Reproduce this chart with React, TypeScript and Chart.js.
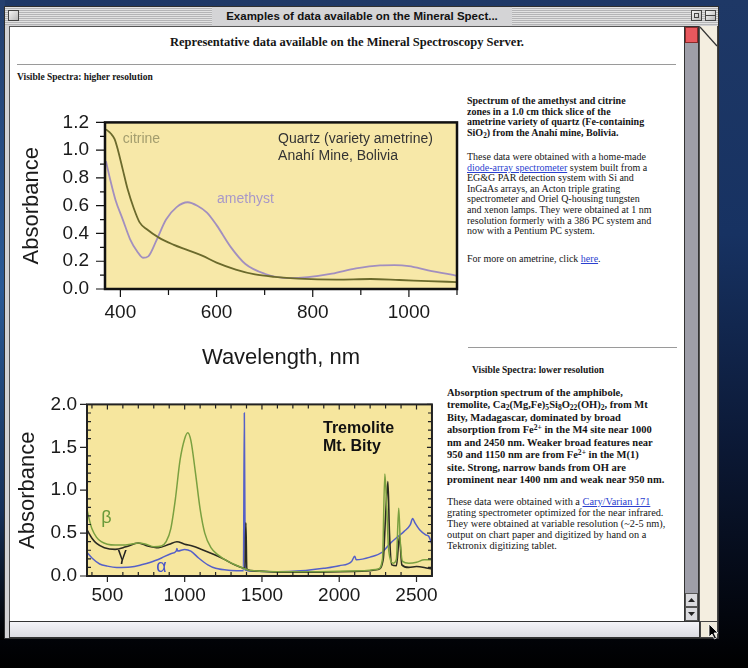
import React, { useEffect, useRef } from 'react';
import { Chart, registerables } from 'chart.js';

Chart.register(...registerables);

const SERIF = '"Liberation Serif", "DejaVu Serif", "Times New Roman", serif';
const SANS = '"Liberation Sans", Arial, Helvetica, sans-serif';

// ---------- Chart 1: visible spectra of ametrine ----------
const citrineNm = [370, 380, 388, 395, 405, 415, 428, 440, 455, 480, 510, 540, 570, 600, 640, 680, 720, 770, 850, 920, 980, 1040, 1100];
const citrineAbs = [1.15, 1.12, 1.08, 1.0, 0.86, 0.72, 0.58, 0.48, 0.43, 0.37, 0.32, 0.28, 0.24, 0.19, 0.14, 0.105, 0.088, 0.075, 0.068, 0.072, 0.065, 0.057, 0.05];
const amethystNm = [370, 378, 390, 405, 420, 435, 447, 458, 475, 495, 517, 540, 560, 580, 600, 630, 660, 700, 750, 790, 840, 890, 940, 970, 1000, 1040, 1100];
const amethystAbs = [0.92, 0.8, 0.64, 0.5, 0.36, 0.27, 0.225, 0.235, 0.35, 0.5, 0.59, 0.625, 0.6, 0.55, 0.46, 0.3, 0.18, 0.11, 0.078, 0.085, 0.11, 0.148, 0.17, 0.172, 0.165, 0.135, 0.095];
const visXTicks = [400, 600, 800, 1000];
const visYTicks = [0, 0.2, 0.4, 0.6, 0.8, 1.0, 1.2];

// ---------- Chart 2: tremolite, Mt. Bity ----------
const betaNm = [370, 380, 400, 430, 460, 500, 550, 600, 650, 700, 750, 800, 850, 880, 910, 940, 970, 1000, 1020, 1040, 1070, 1100, 1130, 1170, 1220, 1280, 1340, 1380, 1410, 1450, 1600, 1800, 2000, 2150, 2250, 2280, 2295, 2305, 2320, 2350, 2370, 2385, 2395, 2410, 2450, 2500, 2550, 2600];
const betaAbs = [0.76, 0.68, 0.55, 0.45, 0.4, 0.37, 0.36, 0.36, 0.37, 0.385, 0.37, 0.34, 0.35, 0.4, 0.55, 0.9, 1.35, 1.6, 1.67, 1.58, 1.2, 0.78, 0.5, 0.33, 0.24, 0.17, 0.12, 0.09, 0.07, 0.06, 0.05, 0.05, 0.055, 0.06, 0.08, 0.2, 1.19, 0.9, 0.3, 0.15, 0.2, 0.79, 0.4, 0.17, 0.15, 0.16, 0.19, 0.19];
const gammaNm = [370, 400, 430, 480, 550, 620, 700, 760, 830, 900, 950, 1000, 1050, 1110, 1190, 1250, 1300, 1350, 1390, 1396, 1402, 1450, 1600, 1800, 2000, 2150, 2250, 2285, 2300, 2315, 2325, 2340, 2370, 2390, 2405, 2450, 2500, 2550, 2600];
const gammaAbs = [0.53, 0.44, 0.38, 0.33, 0.31, 0.34, 0.385, 0.35, 0.33, 0.37, 0.4, 0.37, 0.35, 0.31, 0.25, 0.2, 0.15, 0.11, 0.09, 0.62, 0.08, 0.06, 0.045, 0.045, 0.05, 0.055, 0.075, 0.2, 0.7, 1.1, 0.5, 0.13, 0.12, 0.46, 0.13, 0.1, 0.11, 0.1, 0.08];
const alphaNm = [370, 400, 450, 500, 560, 650, 720, 780, 850, 910, 945, 950, 955, 1000, 1040, 1090, 1150, 1200, 1300, 1380, 1386, 1392, 1450, 1600, 1750, 1900, 2000, 2080, 2100, 2110, 2200, 2280, 2330, 2380, 2420, 2460, 2475, 2490, 2520, 2560, 2580, 2600];
const alphaAbs = [0.27, 0.21, 0.14, 0.115, 0.1, 0.105, 0.13, 0.16, 0.21, 0.26, 0.29, 0.32, 0.29, 0.31, 0.29, 0.21, 0.13, 0.09, 0.065, 0.06, 1.9, 0.07, 0.055, 0.05, 0.06, 0.09, 0.12, 0.17, 0.23, 0.19, 0.22, 0.28, 0.38, 0.46, 0.52, 0.6, 0.67, 0.62, 0.54, 0.48, 0.46, 0.37];
const nirXTicks = [500, 1000, 1500, 2000, 2500];
const nirYTicks = [0, 0.5, 1.0, 1.5, 2.0];

// label anchors (data coordinates)
const visNotes = [
  { text: 'citrine', x: 405, y: 1.076, color: '#a39d6e', font: `14px ${SANS}`, align: 'left' },
  { text: 'Quartz (variety ametrine)', x: 728, y: 1.083, color: '#333', font: `14px ${SANS}`, align: 'left' },
  { text: 'Anahí Mine, Bolivia', x: 728, y: 0.959, color: '#333', font: `14px ${SANS}`, align: 'left' },
  { text: 'amethyst', x: 601, y: 0.648, color: '#a898c8', font: `14px ${SANS}`, align: 'left' },
];
const nirNotes = [
  { text: 'Tremolite', x: 1895, y: 1.716, color: '#111', font: `bold 16px ${SANS}`, align: 'left' },
  { text: 'Mt. Bity', x: 1895, y: 1.51, color: '#111', font: `bold 16px ${SANS}`, align: 'left' },
  { text: 'β', x: 494, y: 0.67, color: '#6a9a3a', font: `18px ${SANS}`, align: 'center' },
  { text: 'γ', x: 596, y: 0.24, color: '#222', font: `18px ${SANS}`, align: 'center' },
  { text: 'α', x: 850, y: 0.1, color: '#4a55c8', font: `18px ${SANS}`, align: 'center' },
];

const pts = (xs: number[], ys: number[]) => xs.map((x, i) => ({ x, y: ys[i] }));

type Side = { major: number; minor: number };
type FrameSpec = {
  fill: string; color: string; frameWidth: number;
  xMajor: number; xMinor: number; yMajor: number; yMinor: number;
  sides: { bottom?: Side; top?: Side; left?: Side; right?: Side };
};

const framePlugin = (spec: FrameSpec) => ({
  id: 'frame',
  beforeDatasetsDraw(chart: any) {
    const { ctx, chartArea: a } = chart;
    ctx.save();
    ctx.fillStyle = spec.fill;
    ctx.fillRect(a.left, a.top, a.right - a.left, a.bottom - a.top);
    ctx.restore();
  },
  afterDatasetsDraw(chart: any) {
    const { ctx, chartArea: a, scales } = chart;
    const x = scales.x, y = scales.y;
    ctx.save();
    ctx.strokeStyle = spec.color;
    ctx.lineWidth = 1.2;
    ctx.beginPath();
    (['bottom', 'top', 'left', 'right'] as const).forEach((side) => {
      const s = spec.sides[side];
      if (!s) return;
      const horiz = side === 'bottom' || side === 'top';
      const sc = horiz ? x : y;
      const minor = horiz ? spec.xMinor : spec.yMinor;
      const major = horiz ? spec.xMajor : spec.yMajor;
      for (let k = Math.ceil(sc.min / minor - 1e-9); k * minor <= sc.max + 1e-9; k++) {
        const v = k * minor;
        const r = v / major;
        const len = Math.abs(r - Math.round(r)) < 1e-6 ? s.major : s.minor;
        if (!len) continue;
        const p = sc.getPixelForValue(v);
        if (side === 'bottom') { ctx.moveTo(p, a.bottom); ctx.lineTo(p, a.bottom - len); }
        if (side === 'top') { ctx.moveTo(p, a.top); ctx.lineTo(p, a.top + len); }
        if (side === 'left') { ctx.moveTo(a.left, p); ctx.lineTo(a.left + len, p); }
        if (side === 'right') { ctx.moveTo(a.right, p); ctx.lineTo(a.right - len, p); }
      }
    });
    ctx.stroke();
    ctx.lineWidth = spec.frameWidth;
    ctx.strokeRect(a.left, a.top, a.right - a.left, a.bottom - a.top);
    ctx.restore();
  },
});

const notesPlugin = (items: typeof visNotes) => ({
  id: 'notes',
  afterDatasetsDraw(chart: any) {
    const { ctx, scales } = chart;
    ctx.save();
    ctx.textBaseline = 'middle';
    items.forEach((n) => {
      ctx.font = n.font;
      ctx.fillStyle = n.color;
      ctx.textAlign = n.align as CanvasTextAlign;
      ctx.fillText(n.text, scales.x.getPixelForValue(n.x), scales.y.getPixelForValue(n.y));
    });
    ctx.restore();
  },
});

function axisX(min: number, max: number, ticks: number[], height: number, pad: number, title?: any) {
  return {
    type: 'linear', min, max,
    afterBuildTicks: (s: any) => { s.ticks = ticks.map((value) => ({ value })); },
    afterFit: (s: any) => { s.height = height; },
    grid: { display: false, drawTicks: false },
    border: { display: false },
    ticks: { padding: pad, color: '#1a1a1a', autoSkip: false, maxRotation: 0, font: { family: SANS, size: 19 }, callback: (v: any) => String(v) },
    title: title || { display: false },
  };
}
function axisY(min: number, max: number, ticks: number[], width: number, pad: number, titlePad: number) {
  return {
    type: 'linear', min, max,
    afterBuildTicks: (s: any) => { s.ticks = ticks.map((value) => ({ value })); },
    afterFit: (s: any) => { s.width = width; },
    grid: { display: false, drawTicks: false },
    border: { display: false },
    ticks: { padding: pad, color: '#1a1a1a', autoSkip: false, font: { family: SANS, size: 19 }, callback: (v: any) => Number(v).toFixed(1) },
    title: { display: true, text: 'Absorbance', color: '#1a1a1a', font: { family: SANS, size: 22 }, padding: { top: titlePad, bottom: 0 } },
  };
}

const line = (data: any, color: string, width: number) => ({
  data, borderColor: color, borderWidth: width, pointRadius: 0, fill: false, cubicInterpolationMode: 'monotone',
});

function visConfig(): any {
  return {
    type: 'line',
    data: {
      datasets: [
        line(pts(citrineNm, citrineAbs), '#6b6a2c', 1.8),
        line(pts(amethystNm, amethystAbs), '#a28fbf', 1.8),
      ],
    },
    options: {
      animation: false, responsive: false, devicePixelRatio: 1,
      layout: { padding: { left: 0, top: 18, right: 8, bottom: 0 } },
      plugins: { legend: { display: false }, tooltip: { enabled: false } },
      scales: {
        x: axisX(368, 1100, visXTicks, 86, 12, {
          display: true, text: 'Wavelength, nm', color: '#1a1a1a', font: { family: SANS, size: 22 }, padding: { top: 0, bottom: 4 },
        }),
        y: axisY(0, 1.2, visYTicks, 95, 16, 9),
      },
    },
    plugins: [
      framePlugin({
        fill: '#f7e8a8', color: '#111', frameWidth: 2.5, xMajor: 200, xMinor: 100, yMajor: 0.2, yMinor: 0.1,
        sides: { bottom: { major: -8, minor: -6 }, left: { major: -9, minor: -5 } },
      }),
      notesPlugin(visNotes),
    ],
  };
}

function nirConfig(): any {
  return {
    type: 'line',
    data: {
      datasets: [
        line(pts(betaNm, betaAbs), '#7aa040', 1.5),
        line(pts(gammaNm, gammaAbs), '#2b2b22', 1.6),
        line(pts(alphaNm, alphaAbs), '#5560c8', 1.5),
      ],
    },
    options: {
      animation: false, responsive: false, devicePixelRatio: 1,
      layout: { padding: { left: 0, top: 17, right: 8, bottom: 0 } },
      plugins: { legend: { display: false }, tooltip: { enabled: false } },
      scales: {
        x: axisX(368, 2600, nirXTicks, 44, 8),
        y: axisY(0, 2.0, nirYTicks, 77, 10, 5),
      },
    },
    plugins: [
      framePlugin({
        fill: '#f6e69e', color: '#222', frameWidth: 2, xMajor: 500, xMinor: 100, yMajor: 0.5, yMinor: 0.1,
        sides: { bottom: { major: -6, minor: 4 }, top: { major: 5, minor: 4 }, left: { major: -7, minor: 4 }, right: { major: 5, minor: 4 } },
      }),
      notesPlugin(nirNotes),
    ],
  };
}

function ChartCanvas({ make, left, top, width, height }: { make: () => any; left: number; top: number; width: number; height: number }) {
  const ref = useRef<HTMLCanvasElement>(null);
  useEffect(() => {
    const c = new Chart(ref.current as HTMLCanvasElement, make());
    return () => c.destroy();
  }, []);
  return <canvas ref={ref} width={width} height={height} style={{ position: 'absolute', left, top, width, height }} />;
}

const abs = (l: number, t: number, w: number, h: number, extra: React.CSSProperties = {}): React.CSSProperties => ({
  position: 'absolute', left: l, top: t, width: w, height: h, boxSizing: 'border-box', ...extra,
});

const link: React.CSSProperties = { color: '#2b3fcf', textDecoration: 'underline' };
const sub: React.CSSProperties = { fontSize: '0.72em', position: 'relative', top: '0.3em', verticalAlign: 'baseline' };
const sup: React.CSSProperties = { fontSize: '0.72em', position: 'relative', top: '-0.45em', verticalAlign: 'baseline' };

export default function App() {
  const textBase: React.CSSProperties = { position: 'absolute', fontFamily: SERIF, color: '#151515', whiteSpace: 'nowrap' };
  return (
    <div style={{ position: 'fixed', left: 0, top: 0, width: 748, height: 668, overflow: 'hidden', background: 'linear-gradient(to bottom, #1e3866 0%, #173262 35%, #0c1a38 65%, #03060e 92%, #000 100%)' }}>
      <div style={abs(0, 0, 5, 640, { background: 'linear-gradient(to bottom, #243f6e, #2a5a96 45%, #163058 80%, #000)' })} />
      {/* window frame */}
      <div style={abs(4, 6, 715, 633, { background: '#d2d2d4', border: '1px solid #2e2e2e' })} />
      {/* title bar */}
      <div style={abs(5, 7, 713, 18, { background: 'repeating-linear-gradient(to bottom, #e2e2e2 0px, #e2e2e2 1px, #b4b4b6 1px, #b4b4b6 2px)' })} />
      <div style={abs(8, 10, 11, 11, { border: '1px solid #444', background: 'linear-gradient(135deg, #f4f4f4, #b8b8b8)' })} />
      <div style={abs(212, 7, 300, 18, { background: '#d4d4d6', fontFamily: SANS, fontWeight: 'bold', fontSize: 11.5, lineHeight: '18px', textAlign: 'center', color: '#111', whiteSpace: 'nowrap' })}>
        Examples of data available on the Mineral Spect...
      </div>
      <div style={abs(691, 10, 11, 11, { border: '1px solid #444', background: 'linear-gradient(135deg, #f4f4f4, #b8b8b8)' })} />
      <div style={abs(694, 13, 5, 5, { border: '1px solid #444' })} />
      <div style={abs(705, 10, 11, 11, { border: '1px solid #444', background: 'linear-gradient(135deg, #f4f4f4, #b8b8b8)' })} />
      <div style={abs(705, 15, 11, 1, { background: '#444' })} />

      {/* content area */}
      <div style={abs(9, 26, 676, 596, { background: '#ffffff', borderTop: '1px solid #555', borderLeft: '1px solid #555' })} />
      {/* vertical scrollbar */}
      <div style={abs(684, 26, 15, 596, { background: '#9e9ea8', border: '1px solid #333' })} />
      <div style={abs(685, 27, 13, 16, { background: '#e8585e', border: '1px solid #8a2a2a' })} />
      <div style={abs(685, 593, 13, 14, { background: '#dadade', border: '1px solid #555' })} />
      <div style={abs(685, 607, 13, 14, { background: '#dadade', border: '1px solid #555' })} />
      <svg style={abs(685, 593, 13, 28)} width={13} height={28}>
        <polygon points="3,9 10,9 6.5,5" fill="#222" />
        <polygon points="3,19 10,19 6.5,23" fill="#222" />
      </svg>
      {/* page edge strip */}
      <div style={abs(699, 26, 19, 596, { background: '#f4eee0', borderLeft: '1px solid #555', borderRight: '1px solid #444' })} />
      <svg style={abs(699, 26, 19, 22)} width={19} height={22}>
        <line x1={1} y1={1} x2={18} y2={20} stroke="#333" strokeWidth={1.2} />
      </svg>
      {/* horizontal scrollbar */}
      <div style={abs(9, 621, 691, 17, { background: 'linear-gradient(to bottom, #f4f4f8, #dcdce2)', border: '1px solid #333' })} />
      <div style={abs(700, 621, 18, 17, { background: '#f0ebdc', border: '1px solid #444' })} />
      <svg style={abs(708, 623, 12, 18)} width={12} height={18}>
        <polygon points="1,1 1,14 4,11 6.5,16 8.5,15 6,10 10,10" fill="#000" stroke="#fff" strokeWidth={0.8} />
      </svg>

      {/* page text */}
      <div style={{ ...textBase, left: 9, width: 676, top: 34, textAlign: 'center', fontSize: 12.5, fontWeight: 'bold', lineHeight: '16px' }}>
        Representative data available on the Mineral Spectroscopy Server.
      </div>
      <div style={abs(17, 64, 659, 1, { background: '#9a9a9a' })} />
      <div style={{ ...textBase, left: 17, top: 71, fontSize: 9.5, fontWeight: 'bold', lineHeight: '12px' }}>
        Visible Spectra: higher resolution
      </div>

      <div style={{ ...textBase, left: 467, top: 96, fontSize: 10, fontWeight: 'bold', lineHeight: '10.5px' }}>
        <div>Spectrum of the amethyst and citrine</div>
        <div>zones in a 1.0 cm thick slice of the</div>
        <div>ametrine variety of quartz (Fe-containing</div>
        <div>SiO<span style={sub}>2</span>) from the Anahí mine, Bolivia.</div>
      </div>
      <div style={{ ...textBase, left: 467, top: 152, fontSize: 10, lineHeight: '10.6px' }}>
        <div>These data were obtained with a home-made</div>
        <div><span style={link}>diode-array spectrometer</span> system built from a</div>
        <div>EG&amp;G PAR detection system with Si and</div>
        <div>InGaAs arrays, an Acton triple grating</div>
        <div>spectrometer and Oriel Q-housing tungsten</div>
        <div>and xenon lamps. They were obtained at 1 nm</div>
        <div>resolution formerly with a 386 PC system and</div>
        <div>now with a Pentium PC system.</div>
      </div>
      <div style={{ ...textBase, left: 467, top: 254, fontSize: 10, lineHeight: '10.6px' }}>
        For more on ametrine, click <span style={link}>here</span>.
      </div>

      <div style={abs(468, 347, 209, 1, { background: '#9a9a9a' })} />
      <div style={{ ...textBase, left: 472, top: 364, fontSize: 9.5, fontWeight: 'bold', lineHeight: '12px' }}>
        Visible Spectra: lower resolution
      </div>
      <div style={{ ...textBase, left: 447, top: 387, fontSize: 10.5, fontWeight: 'bold', lineHeight: '12px' }}>
        <div>Absorption spectrum of the amphibole,</div>
        <div>tremolite, Ca<span style={sub}>2</span>(Mg,Fe)<span style={sub}>5</span>Si<span style={sub}>8</span>O<span style={sub}>22</span>(OH)<span style={sub}>2</span>, from Mt</div>
        <div>Bity, Madagascar, dominated by broad</div>
        <div>absorption from Fe<span style={sup}>2+</span> in the M4 site near 1000</div>
        <div>nm and 2450 nm. Weaker broad features near</div>
        <div>950 and 1150 nm are from Fe<span style={sup}>2+</span> in the M(1)</div>
        <div>site. Strong, narrow bands from OH are</div>
        <div>prominent near 1400 nm and weak near 950 nm.</div>
      </div>
      <div style={{ ...textBase, left: 447, top: 496, fontSize: 10.3, lineHeight: '11px' }}>
        <div>These data were obtained with a <span style={link}>Cary/Varian 171</span></div>
        <div>grating spectrometer optimized for the near infrared.</div>
        <div>They were obtained at variable resolution (~2-5 nm),</div>
        <div>output on chart paper and digitized by hand on a</div>
        <div>Tektronix digitizing tablet.</div>
      </div>

      <ChartCanvas make={visConfig} left={10} top={95} width={455} height={280} />
      <ChartCanvas make={nirConfig} left={10} top={383} width={436} height={237} />
    </div>
  );
}
